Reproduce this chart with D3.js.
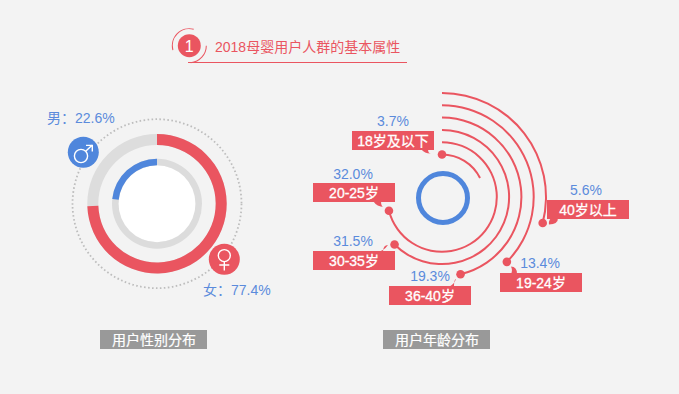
<!DOCTYPE html>
<html>
<head>
<meta charset="utf-8">
<script src="https://cdn.jsdelivr.net/npm/d3@7"></script>
<style>
  html, body { margin: 0; padding: 0; background: #f3f3f3; }
  svg { display: block; font-family: "Liberation Sans", "Noto Sans CJK SC", sans-serif; }
</style>
</head>
<body>
<div id="chart"></div>
<script>
// ========= DATA =========
const titleText = "2018母婴用户人群的基本属性";
const genderNames = ["男", "女"];
const genderShare = [22.6, 77.4];
// the rings in the picture do not follow the printed shares exactly, sweeps are read off it (degrees)
const genderSweep = [84, 268];
const genderCaption = "用户性别分布";

const ageNames = ["18岁及以下", "20-25岁", "30-35岁", "36-40岁", "19-24岁", "40岁以上"];
const ageShare = ["3.7%", "32.0%", "31.5%", "19.3%", "13.4%", "5.6%"];
const ageSweep = [63.5, 255.5, 225, 166.5, 135, 104.5];
const ageCaption = "用户年龄分布";

// ========= LAYOUT =========
const width = 679;
const height = 394;
const red = "#ea5560";
const blue = "#4f86dc";
const softBlue = "#5b8bdc";
const grey = "#dddddd";

// box top-left, share label centre and the little tail (base a, base b, tip) for each age label
const ageBoxes = [
  { x: 352, y: 131, px: 393, py: 121, tail: [[421, 149], [428, 149], [431, 153.5]] },
  { x: 313, y: 183, px: 353, py: 174, tail: [[373, 201], [381, 201], [384, 207]] },
  { x: 313, y: 251, px: 353, py: 241, tail: [[376, 252], [383, 252], [388, 245]] },
  { x: 389, y: 286, px: 430, py: 276, tail: [[448, 287], [454, 287], [456, 279]] },
  { x: 500, y: 273, px: 540, py: 263, tail: [[511, 274], [517, 274], [511, 266.5]] },
  { x: 547, y: 200, px: 586, py: 190, tail: [[551, 218], [558, 218], [549, 224.5]] },
];

const svg = d3
  .select("#chart")
  .append("svg")
  .attr("width", width)
  .attr("height", height);

svg.append("rect").attr("width", width).attr("height", height).attr("fill", "#f3f3f3");

const angle = d3.scaleLinear().domain([0, 360]).range([0, 2 * Math.PI]);

//======== TITLE =========
const head = svg.append("g");
const headArc = d3.arc().innerRadius(16.5).outerRadius(17.5);

head
  .append("g")
  .attr("transform", "translate(189.3,45.7)")
  .selectAll("path")
  .data([[-105, 15], [90, 175]])
  .join("path")
  .attr("d", (d) => headArc({ startAngle: angle(d[0]), endAngle: angle(d[1]) }))
  .attr("fill", red);

head.append("circle").attr("cx", 189.3).attr("cy", 45.7).attr("r", 11.5).attr("fill", red);

head
  .append("text")
  .attr("x", 189.3)
  .attr("y", 51.5)
  .attr("text-anchor", "middle")
  .attr("fill", "#fff")
  .style("font-size", "16px")
  .text("1");

head
  .append("line")
  .attr("x1", 188)
  .attr("x2", 407)
  .attr("y1", 62.5)
  .attr("y2", 62.5)
  .attr("stroke", red)
  .attr("stroke-width", 1);

head
  .append("text")
  .attr("x", 215)
  .attr("y", 52)
  .attr("fill", red)
  .style("font-size", "14px")
  .text(titleText);

//======== GENDER RINGS =========
const gender = svg.append("g").attr("transform", "translate(157,203.7)");
const outerRing = d3.arc().innerRadius(58.7).outerRadius(69.7);
const innerRing = d3.arc().innerRadius(38.5).outerRadius(45);

gender
  .append("circle")
  .attr("r", 84.5)
  .attr("fill", "none")
  .attr("stroke", "#bdbdbd")
  .attr("stroke-width", 1.8)
  .attr("stroke-dasharray", "1.6 2.4");

gender.append("path").attr("fill", grey)
  .attr("d", outerRing({ startAngle: 0, endAngle: 2 * Math.PI }));
gender.append("path").attr("fill", red)
  .attr("d", outerRing({ startAngle: 0, endAngle: angle(genderSweep[1]) }));

gender.append("circle").attr("r", 38.5).attr("fill", "#fff");
gender.append("path").attr("fill", "#dcdcdc")
  .attr("d", innerRing({ startAngle: 0, endAngle: 2 * Math.PI }));
gender.append("path").attr("fill", blue)
  .attr("d", innerRing({ startAngle: 0, endAngle: -angle(genderSweep[0]) }));

// male badge
const male = svg.append("g").attr("transform", "translate(83.3,152.3)");
male.append("circle").attr("r", 15.5).attr("fill", blue);
male.append("circle").attr("cx", -2.3).attr("cy", 3.7).attr("r", 6.6)
  .attr("fill", "none").attr("stroke", "#fff").attr("stroke-width", 1.4);
male.append("path").attr("d", "M2.4,-1L9,-7.3M2.7,-6.9H9V-0.7")
  .attr("fill", "none").attr("stroke", "#fff").attr("stroke-width", 1.4);

// female badge
const female = svg.append("g").attr("transform", "translate(224.3,259.3)");
female.append("circle").attr("r", 15.5).attr("fill", red);
female.append("circle").attr("cy", -3.7).attr("r", 6)
  .attr("fill", "none").attr("stroke", "#fff").attr("stroke-width", 1.4);
female.append("path").attr("d", "M0,2.3V11.3M-5,5.7H5")
  .attr("fill", "none").attr("stroke", "#fff").attr("stroke-width", 1.4);

svg.append("text").attr("x", 47).attr("y", 122.5).attr("fill", softBlue)
  .style("font-size", "14px").text(genderNames[0] + "：" + genderShare[0] + "%");
svg.append("text").attr("x", 203).attr("y", 295).attr("fill", softBlue)
  .style("font-size", "14px").text(genderNames[1] + "：" + genderShare[1] + "%");

//======== AGE ARCS =========
const radius = d3.scalePoint().domain(ageNames).range([42.5, 104]);

// blue ring is a pixel off the arcs' centre in the picture
svg.append("circle").attr("cx", 443).attr("cy", 198).attr("r", 24.5).attr("fill", "none")
  .attr("stroke", blue).attr("stroke-width", 5);

const age = svg.append("g").attr("transform", "translate(442,197)");

age
  .selectAll("path.track")
  .data(ageNames)
  .join("path")
  .attr("class", "track")
  .attr("fill", red)
  .attr("d", (d, i) =>
    d3.arc()
      .innerRadius(radius(d) - 1)
      .outerRadius(radius(d) + 1)({ startAngle: 0, endAngle: angle(ageSweep[i]) })
  );

// the 18岁及以下 dot sits at the start of its arc, the others at the end
age
  .selectAll("circle.dot")
  .data(ageNames)
  .join("circle")
  .attr("class", "dot")
  .attr("r", 4.3)
  .attr("fill", red)
  .attr("transform", (d, i) =>
    `translate(${d3.pointRadial(i === 0 ? 0 : angle(ageSweep[i]), radius(d))})`
  );

const labels = svg
  .selectAll("g.agelabel")
  .data(ageNames)
  .join("g")
  .attr("class", "agelabel");

labels
  .append("path")
  .attr("fill", red)
  .attr("d", (d, i) => {
    const [a, b, tip] = ageBoxes[i].tail;
    const midx = (a[0] + tip[0]) / 2;
    const midy = (a[1] + tip[1]) / 2;
    return `M${a}Q${midx - (tip[1] - a[1]) * 0.25},${midy + (tip[0] - a[0]) * 0.25} ${tip}Q${b[0]},${tip[1]} ${b}Z`;
  });

labels
  .append("rect")
  .attr("x", (d, i) => ageBoxes[i].x)
  .attr("y", (d, i) => ageBoxes[i].y)
  .attr("width", 82)
  .attr("height", 19)
  .attr("fill", red);

labels
  .append("text")
  .attr("x", (d, i) => ageBoxes[i].x + 41)
  .attr("y", (d, i) => ageBoxes[i].y + 14.5)
  .attr("text-anchor", "middle")
  .attr("fill", "#fff")
  .attr("stroke", "#fff")
  .attr("stroke-width", 0.3)
  .style("font-size", "14px")
  .text((d) => d);

labels
  .append("text")
  .attr("x", (d, i) => ageBoxes[i].px)
  .attr("y", (d, i) => ageBoxes[i].py + 5)
  .attr("text-anchor", "middle")
  .attr("fill", softBlue)
  .style("font-size", "14px")
  .text((d, i) => ageShare[i]);

//======== CAPTIONS =========
svg
  .selectAll("g.caption")
  .data([[100, genderCaption], [383, ageCaption]])
  .join("g")
  .attr("class", "caption")
  .each(function (d) {
    const g = d3.select(this);
    g.append("rect").attr("x", d[0]).attr("y", 330).attr("width", 107).attr("height", 19).attr("fill", "#999999");
    g.append("text")
      .attr("x", d[0] + 54)
      .attr("y", 344.5)
      .attr("text-anchor", "middle")
      .attr("fill", "#fff")
      .attr("stroke", "#fff")
      .attr("stroke-width", 0.2)
      .style("font-size", "14px")
      .text(d[1]);
  });
</script>
</body>
</html>
